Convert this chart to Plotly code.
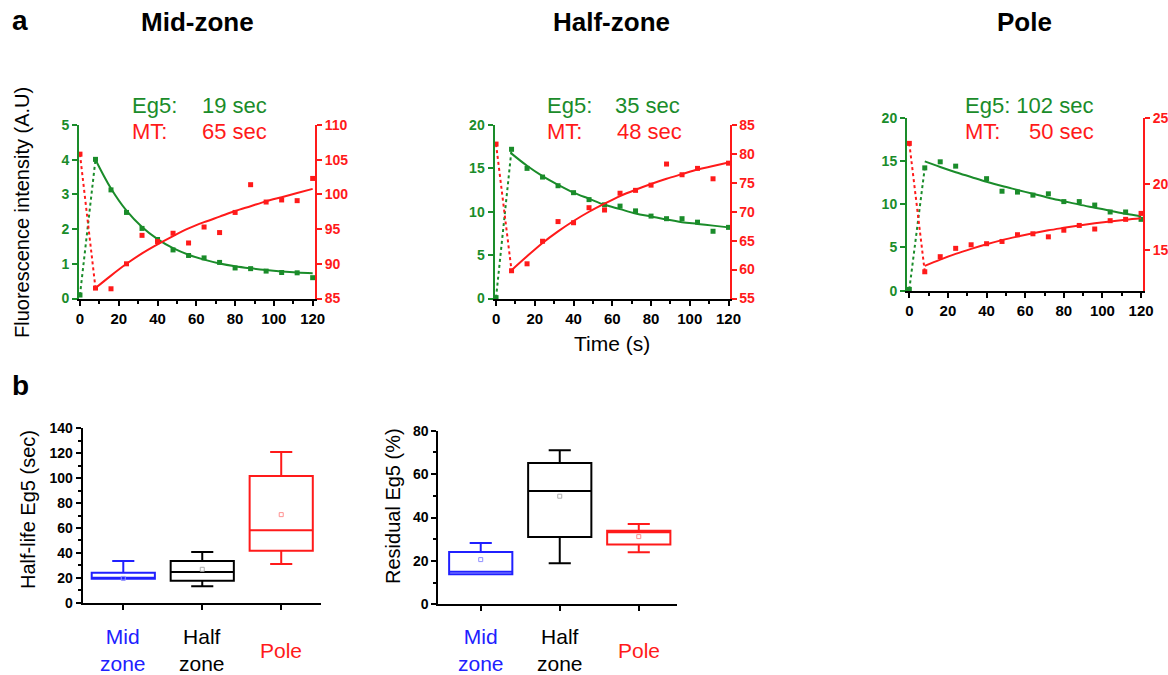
import plotly.graph_objects as go

W, H = 1168, 675
GREEN = "#1a8c2a"
RED = "#ff1a1a"
BLUE = "#2020ff"
FONT = "Liberation Sans, Arial, sans-serif"

# ---------------- data ----------------
time_s = [0, 8, 16, 24, 32, 40, 48, 56, 64, 72, 80, 88, 96, 104, 112, 120]
fit_t = [8, 16, 24, 32, 40, 48, 56, 64, 72, 80, 88, 96, 104, 112, 120]

mid_eg5 = [0.10, 4.01, 3.13, 2.48, 2.02, 1.70, 1.40, 1.24, 1.17, 1.04, 0.88, 0.86, 0.79, 0.75, 0.74, 0.60]
mid_mt = [105.8, 86.5, 86.4, 90.0, 94.1, 93.2, 94.4, 93.0, 95.3, 94.5, 97.4, 101.4, 98.9, 99.2, 99.1, 102.3]
mid_eg5_fit = [4.00, 3.17, 2.53, 2.06, 1.71, 1.45, 1.26, 1.12, 1.01, 0.93, 0.87, 0.82, 0.78, 0.75, 0.73]
mid_mt_fit = [86.5, 88.3, 90.0, 91.5, 92.8, 94.0, 95.1, 96.0, 96.8, 97.6, 98.3, 99.0, 99.6, 100.2, 100.8]

half_eg5 = [0.1, 17.2, 15.0, 14.0, 13.0, 12.2, 11.4, 10.8, 10.65, 10.1, 9.5, 9.2, 9.2, 8.8, 7.75, 8.2]
half_mt = [81.7, 59.8, 61.0, 64.9, 68.3, 68.1, 70.7, 70.3, 73.2, 73.7, 74.6, 78.25, 76.4, 77.5, 75.7, 78.4]
half_eg5_fit = [16.7, 15.3, 14.1, 13.1, 12.2, 11.5, 10.8, 10.3, 9.8, 9.45, 9.1, 8.8, 8.6, 8.4, 8.2]
half_mt_fit = [59.9, 62.3, 64.6, 66.6, 68.4, 70.0, 71.4, 72.7, 73.8, 74.8, 75.7, 76.5, 77.3, 77.9, 78.5]

pole_eg5 = [0.15, 14.2, 14.9, 14.4, None, 12.95, 11.5, 11.4, 11.05, 11.2, 10.3, 10.3, 9.9, 9.1, 9.1, 8.25]
pole_mt = [23.06, 13.36, 14.5, 15.13, 15.4, 15.48, 15.65, 16.16, 16.23, 16.0, 16.5, 16.86, 16.59, 17.22, 17.32, 17.77]
pole_eg5_fit = [14.95, 14.3, 13.7, 13.15, 12.6, 12.1, 11.65, 11.2, 10.75, 10.35, 9.95, 9.6, 9.25, 8.9, 8.6]
pole_mt_fit = [13.8, 14.28, 14.71, 15.09, 15.44, 15.75, 16.02, 16.27, 16.49, 16.68, 16.86, 17.02, 17.16, 17.29, 17.4]

panel_titles = ["Mid-zone", "Half-zone", "Pole"]
eg5_halflife = ["19 sec", "35 sec", "102 sec"]
mt_halflife = ["65 sec", "48 sec", "50 sec"]

zones = ["Mid<br>zone", "Half<br>zone", "Pole"]
zone_colors = [BLUE, "black", RED]
mean_colors = ["#9090ff", "#b0b0b0", "#ff9090"]

hl_q1 = [19.3, 17.6, 41.8]
hl_median = [19.5, 24.6, 58.1]
hl_q3 = [24.0, 33.4, 101.7]
hl_low = [19.3, 13.3, 31.0]
hl_high = [33.4, 40.6, 121.0]
hl_mean = [19.5, 26.8, 70.7]

res_q1 = [13.8, 31.0, 27.6]
res_median = [15.0, 52.2, 33.2]
res_q3 = [24.1, 65.1, 33.9]
res_low = [13.8, 18.9, 24.0]
res_high = [28.3, 71.0, 37.0]
res_mean = [20.6, 49.8, 31.2]


def xd(a, b):
    return [a / W, b / W]


def yd(top, bottom):
    return [1 - bottom / H, 1 - top / H]


fig = go.Figure()

# ---------------- panel a ----------------
panels = [
    dict(x="x", yl="y", yr="y2", eg5=mid_eg5, mt=mid_mt, ef=mid_eg5_fit, mf=mid_mt_fit),
    dict(x="x2", yl="y3", yr="y4", eg5=half_eg5, mt=half_mt, ef=half_eg5_fit, mf=half_mt_fit),
    dict(x="x3", yl="y5", yr="y6", eg5=pole_eg5, mt=pole_mt, ef=pole_eg5_fit, mf=pole_mt_fit),
]
for p in panels:
    fig.add_trace(go.Scatter(x=time_s[:2], y=p["eg5"][:2], mode="lines", xaxis=p["x"], yaxis=p["yl"],
                             line=dict(color=GREEN, width=2, dash="dot"), showlegend=False, cliponaxis=False))
    fig.add_trace(go.Scatter(x=time_s[:2], y=p["mt"][:2], mode="lines", xaxis=p["x"], yaxis=p["yr"],
                             line=dict(color=RED, width=2, dash="dot"), showlegend=False, cliponaxis=False))
    fig.add_trace(go.Scatter(x=fit_t, y=p["ef"], mode="lines", xaxis=p["x"], yaxis=p["yl"],
                             line=dict(color=GREEN, width=2, shape="spline"), showlegend=False, cliponaxis=False))
    fig.add_trace(go.Scatter(x=fit_t, y=p["mf"], mode="lines", xaxis=p["x"], yaxis=p["yr"],
                             line=dict(color=RED, width=2, shape="spline"), showlegend=False, cliponaxis=False))
    fig.add_trace(go.Scatter(x=time_s, y=p["eg5"], mode="markers", xaxis=p["x"], yaxis=p["yl"],
                             marker=dict(symbol="square", size=5, color=GREEN), showlegend=False, cliponaxis=False))
    fig.add_trace(go.Scatter(x=time_s, y=p["mt"], mode="markers", xaxis=p["x"], yaxis=p["yr"],
                             marker=dict(symbol="square", size=5, color=RED), showlegend=False, cliponaxis=False))

# ---------------- panel b ----------------
def add_boxes(xa, ya, q1, med, q3, lo, hi, mean):
    for i in range(3):
        fig.add_trace(go.Box(x=[i], q1=[q1[i]], median=[med[i]], q3=[q3[i]], lowerfence=[lo[i]],
                             upperfence=[hi[i]], xaxis=xa, yaxis=ya, width=0.8, whiskerwidth=0.35,
                             line=dict(color=zone_colors[i], width=2), fillcolor="rgba(0,0,0,0)",
                             boxpoints=False, showlegend=False, hoverinfo="skip"))
        fig.add_trace(go.Scatter(x=[i], y=[mean[i]], mode="markers", xaxis=xa, yaxis=ya,
                                 marker=dict(symbol="square-open", size=4, color=mean_colors[i], line=dict(width=1)),
                                 showlegend=False))


add_boxes("x4", "y7", hl_q1, hl_median, hl_q3, hl_low, hl_high, hl_mean)
add_boxes("x5", "y8", res_q1, res_median, res_q3, res_low, res_high, res_mean)

# ---------------- axes ----------------
def tf(color, size=14):
    return dict(family=FONT, size=size, color=color, weight="bold")


def xaxis_a(dom, rng, anchor):
    return dict(domain=dom, range=rng, anchor=anchor, showline=True, linecolor="black", linewidth=2,
                ticks="outside", ticklen=5, tickwidth=2, tickcolor="black", tickmode="array", automargin=False,
                tickvals=[0, 20, 40, 60, 80, 100, 120], tickfont=tf("black", 15), showgrid=False, zeroline=False,
                minor=dict(tickmode="array", tickvals=[10, 30, 50, 70, 90, 110], ticks="outside", ticklen=3,
                           tickwidth=1.5, tickcolor="black"))


def yaxis_l(dom, rng, dtick, anchor):
    return dict(domain=dom, range=rng, anchor=anchor, showline=True, linecolor=GREEN, linewidth=2,
                ticks="outside", ticklen=5, tickwidth=2, tickcolor=GREEN, dtick=dtick, tick0=0, automargin=False,
                tickfont=tf(GREEN), showgrid=False, zeroline=False)


def yaxis_r(rng, dtick, over, anchor, tick0=0):
    return dict(range=rng, overlaying=over, side="right", anchor=anchor, showline=True, linecolor=RED,
                linewidth=2, ticks="outside", ticklen=5, tickwidth=2, tickcolor=RED, dtick=dtick, tick0=tick0,
                automargin=False, tickfont=tf(RED), showgrid=False, zeroline=False)


def xaxis_b(dom, rng, anchor):
    return dict(domain=dom, range=rng, anchor=anchor, showline=True, linecolor="black", linewidth=2,
                ticks="outside", ticklen=5, tickwidth=2, tickcolor="black", tickmode="array", automargin=False,
                tickvals=[0, 1, 2], showticklabels=False, showgrid=False, zeroline=False)


def yaxis_b(dom, rng, anchor):
    return dict(domain=dom, range=rng, anchor=anchor, showline=True, linecolor="black", linewidth=2,
                ticks="outside", ticklen=5, tickwidth=2, tickcolor="black", dtick=20, tick0=0, automargin=False,
                tickfont=tf("black"), showgrid=False, zeroline=False,
                minor=dict(dtick=10, tick0=0, ticks="outside", ticklen=3, tickwidth=1.5, tickcolor="black"))


layout = dict(
    width=W, height=H, margin=dict(l=0, r=0, t=0, b=0, autoexpand=False),
    paper_bgcolor="white", plot_bgcolor="rgba(0,0,0,0)", font=dict(family=FONT),
    xaxis=xaxis_a(xd(79, 315), [-0.5, 121.2], "y"),
    yaxis=yaxis_l(yd(125, 298.5), [0, 5], 1, "x"),
    yaxis2=yaxis_r([85, 110], 5, "y", "x"),
    xaxis2=xaxis_a(xd(494.5, 729.5), [-0.8, 120.5], "y3"),
    yaxis3=yaxis_l(yd(125, 298.5), [0, 20], 5, "x2"),
    yaxis4=yaxis_r([55, 85], 5, "y3", "x2"),
    xaxis3=xaxis_a(xd(907, 1143), [-1.2, 121.0], "y5"),
    yaxis5=yaxis_l(yd(117.7, 290.7), [0, 20], 5, "x3"),
    yaxis6=yaxis_r([11.93, 25], 5, "y5", "x3", tick0=0),
    xaxis4=xaxis_b(xd(82.7, 320.7), [-0.514, 2.5], "y7"),
    yaxis7=yaxis_b(yd(428.3, 602.7), [0, 140], "x4"),
    xaxis5=xaxis_b(xd(438.3, 676.7), [-0.537, 2.48], "y8"),
    yaxis8=yaxis_b(yd(430.7, 604.3), [0, 80], "x5"),
)
fig.update_layout(**layout)

# ---------------- text ----------------
ann = []


def txt(text, x, y, size, color="black", bold=False, xanchor="center", yanchor="middle", angle=0):
    ann.append(dict(text=text, x=x / W, y=1 - y / H, xref="paper", yref="paper", showarrow=False,
                    xanchor=xanchor, yanchor=yanchor, textangle=angle,
                    font=dict(family=FONT, size=size, color=color, weight="bold" if bold else "normal")))


txt("a", 20, 20, 28, bold=True)
txt("b", 20, 385, 28, bold=True)
for t, cx in zip(panel_titles, [197, 611, 1024]):
    txt(t, cx, 22, 26, bold=True)

label_x = [(130, 200), (545, 613), (963, 1027)]
for (lx, vx), e, m, i in zip(label_x, eg5_halflife, mt_halflife, range(3)):
    if i == 2:
        txt("Eg5: " + e, lx, 105, 22, GREEN, xanchor="left")
    else:
        txt("Eg5:", lx, 105, 22, GREEN, xanchor="left")
        txt(e, vx, 105, 22, GREEN, xanchor="left")
    txt("MT:", lx, 131, 22, RED, xanchor="left")
    txt(m, vx + (2 if i == 1 else 0), 131, 22, RED, xanchor="left")

txt("Fluorescence intensity (A.U)", 22, 213, 20, angle=-90)
txt("Time (s)", 612, 343, 21)
txt("Half-life Eg5 (sec)", 28, 510, 20, angle=-90)
txt("Residual Eg5 (%)", 393, 506, 20, angle=-90)

for cx_list in ([123.3, 202.3, 281], [480.7, 559.7, 638.7]):
    for cx, z, c in zip(cx_list, zones, zone_colors):
        txt(z, cx, 650, 21, c)

fig.update_layout(annotations=ann)
fig.write_html("out.html", config={"displayModeBar": False},
               post_script="document.body.style.margin='0';document.body.style.overflow='hidden';")
